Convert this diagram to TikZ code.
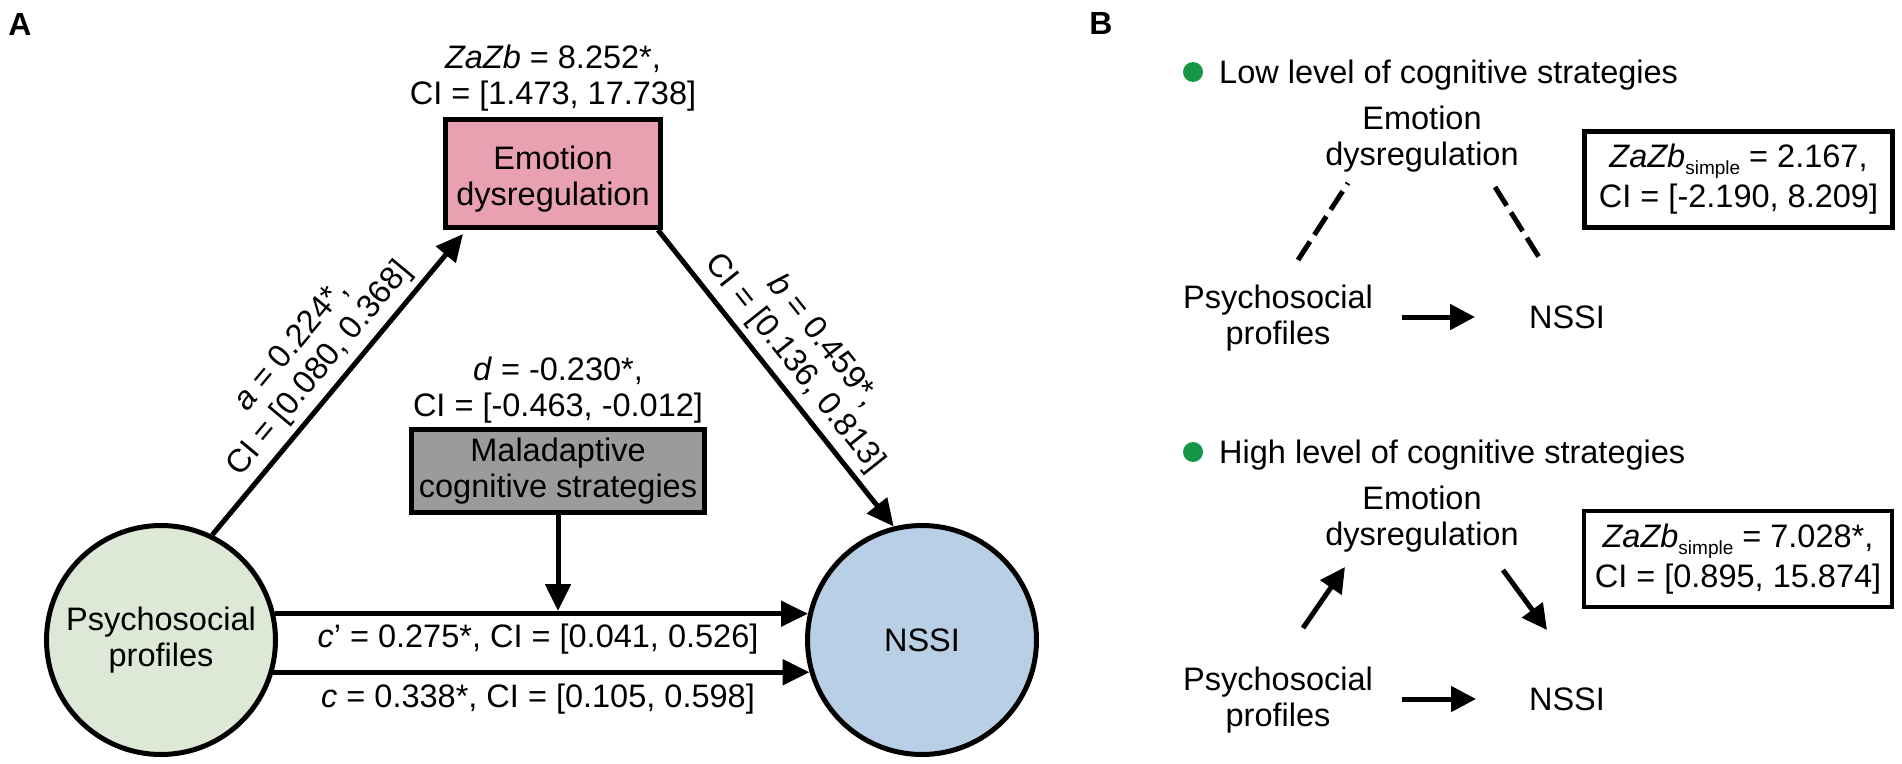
\documentclass[tikz,border=0pt]{standalone}
\usepackage{fontspec}
\setmainfont{Liberation Sans}
\usetikzlibrary{arrows.meta}
\definecolor{emofill}{RGB}{233,160,177}
\definecolor{malfill}{RGB}{155,155,155}
\definecolor{psyfill}{RGB}{222,232,214}
\definecolor{nssifill}{RGB}{185,207,230}
\definecolor{dotgreen}{RGB}{22,150,70}
\newcommand{\simp}{\raisebox{-7pt}{\fontsize{19}{19}\selectfont simple}}
\begin{document}
\begin{tikzpicture}[x=1pt,y=-1pt,
  every node/.style={font=\fontsize{32.5}{36}\selectfont},
  lbl/.style={align=center,inner sep=0pt},
  ebox/.style={draw=black,line width=5pt,inner sep=0pt,align=center},
  circ/.style={circle,draw=black,line width=5pt,minimum size=229pt,inner sep=0pt,align=center},
  conn/.style={line width=5pt,-{Triangle[length=27pt,width=25pt]}},
  dashconn/.style={line width=5pt,dash pattern=on 22pt off 8pt},
  sconn/.style={line width=5pt,-{Triangle[length=25pt,width=25pt]}},
  resbox/.style={draw=black,line width=4.5pt,inner sep=0pt,align=center,minimum width=308pt,minimum height=96pt},
  gdot/.style={circle,fill=dotgreen,minimum size=20pt,inner sep=0pt},
  panellbl/.style={inner sep=0pt,font=\fontsize{32}{36}\selectfont\bfseries}]
\useasboundingbox (0,0) rectangle (1902,763);

% ---------------- Panel A ----------------
\node[panellbl] (labA) at (20,24) {A};
\node[circ,fill=psyfill] (psy) at (161,640) {Psychosocial\\profiles};
\node[circ,fill=nssifill] (nssi) at (922,640) {NSSI};
\node[ebox,fill=emofill,minimum width=215pt,minimum height=108pt,
      label={[lbl,name=emotext,yshift=-6pt]center:{Emotion\\dysregulation}}] (emo) at (553,173.5) {};
\node[ebox,fill=malfill,minimum width=293pt,minimum height=83pt] (mal) at (558,471) {Maladaptive\\cognitive strategies};
\node[lbl] (zab) at (553,78) {\textit{ZaZb} = 8.252*,\\CI = [1.473, 17.738]};
\node[lbl] (dlab) at (558,390) {\textit{d} = -0.230*,\\CI = [-0.463, -0.012]};

\draw[conn] (psy.64) -- ([xshift=20pt,yshift=-4pt]emo.south west)
  node[lbl,midway,sloped,above=6pt] (alab) {\textit{a} = 0.224*,\\CI = [0.080, 0.368]};
\draw[conn] ([xshift=-5pt]emo.south east) -- (nssi.104)
  node[lbl,midway,sloped,above=6pt] (blab) {\textit{b} = 0.459*,\\CI = [0.136, 0.813]};

\draw[conn] (psy.13) -- (nssi.167);
\draw[conn] (psy.-16) -- (nssi.196);
\coordinate (vtip) at (558,611);
\draw[conn] (mal.south) -- (vtip);

\node[lbl] (cplab) at (538,639) {\textit{c}’ = 0.275*, CI = [0.041, 0.526]};
\node[lbl] (clab) at (538,699) {\textit{c} = 0.338*, CI = [0.105, 0.598]};

% ---------------- Panel B ----------------
\node[panellbl] (labB) at (1101,23) {B};

% low level
\node[gdot] (dot1) at (1193,72) {};
\node[lbl,anchor=west] (low) at (1219,75) {Low level of cognitive strategies};
\node[lbl] (ed1) at (1422,139) {Emotion\\dysregulation};
\node[lbl] (pp1) at (1278,318) {Psychosocial\\profiles};
\node[lbl] (ns1) at (1567,317) {NSSI};
\node[resbox] (zb1) at (1738.5,179.5) {\textit{ZaZb}\simp{} = 2.167,\\[4pt]CI = [-2.190, 8.209]};
\coordinate (l1s) at (1298,260);
\coordinate (l1e) at (1348,183);
\coordinate (r1s) at (1495,187);
\coordinate (r1e) at (1542,262);
\coordinate (h1s) at (1402,317);
\coordinate (h1e) at (1475,317);
\draw[dashconn] (l1s) -- (l1e);
\draw[dashconn] (r1s) -- (r1e);
\draw[sconn] (h1s) -- (h1e);

% high level
\node[gdot] (dot2) at (1193,452) {};
\node[lbl,anchor=west] (high) at (1219,455) {High level of cognitive strategies};
\node[lbl] (ed2) at (1422,519) {Emotion\\dysregulation};
\node[lbl] (pp2) at (1278,700) {Psychosocial\\profiles};
\node[lbl] (ns2) at (1567,699) {NSSI};
\node[resbox] (zb2) at (1738,559) {\textit{ZaZb}\simp{} = 7.028*,\\[4pt]CI = [0.895, 15.874]};
\coordinate (l2s) at (1303,628);
\coordinate (l2e) at (1345,567);
\coordinate (r2s) at (1503,570);
\coordinate (r2e) at (1547,630);
\coordinate (h2s) at (1402,699);
\coordinate (h2e) at (1476,699);
\draw[sconn] (l2s) -- (l2e);
\draw[sconn] (r2s) -- (r2e);
\draw[sconn] (h2s) -- (h2e);
\end{tikzpicture}
\end{document}
